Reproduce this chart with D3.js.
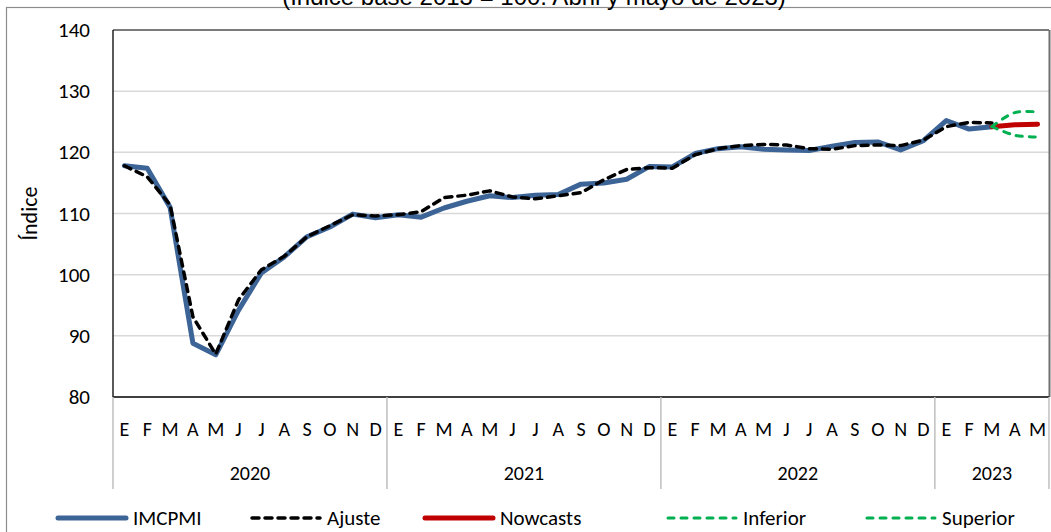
<!DOCTYPE html>
<html>
<head>
<meta charset="utf-8">
<script src="https://cdn.jsdelivr.net/npm/d3@7"></script>
<style>
  body { margin: 0; background: white; }
  svg text { font-family: Carlito, Lato, "Open Sans", sans-serif; fill: #000; }
</style>
</head>
<body>
<svg id="chart" width="1051" height="532"></svg>
<script>
// months / years
const months = ["E","F","M","A","M","J","J","A","S","O","N","D"];
const years = [
  { label: "2020", n: 12 },
  { label: "2021", n: 12 },
  { label: "2022", n: 12 },
  { label: "2023", n: 5 }
];
const yTicks = [80, 90, 100, 110, 120, 130, 140];

// series (null = no value)
const imcpmi = [
  117.8, 117.4, 111.0, 88.8, 86.9, 94.2, 100.3, 102.9, 106.2, 107.8, 109.9, 109.3,
  109.8, 109.4, 110.9, 112.0, 112.9, 112.6, 113.0, 113.1, 114.8, 115.0, 115.6, 117.7,
  117.6, 119.8, 120.6, 120.9, 120.5, 120.4, 120.3, 121.0, 121.6, 121.7, 120.4, 121.9,
  125.2, 123.8, 124.2, null, null
];
const ajuste = [
  117.8, 116.0, 111.4, 93.1, 87.0, 95.9, 100.8, 103.0, 106.2, 108.0, 109.8, 109.6,
  109.8, 110.3, 112.6, 113.0, 113.7, 112.7, 112.4, 112.9, 113.4, 115.5, 117.2, 117.5,
  117.4, 119.6, 120.6, 121.1, 121.3, 121.2, 120.6, 120.5, 121.1, 121.2, 121.1, 122.0,
  124.2, 124.9, 124.8, null, null
];
const nowcasts = [124.2, 124.5, 124.6];   // M, A, M 2023
const inferior = [124.2, 122.8, 122.5];
const superior = [124.2, 126.5, 126.6];
const forecastStart = 38;

const svg = d3.select("#chart");
const margin = { top: 30, right: 2, bottom: 135, left: 113 };
const W = 1051, H = 532;

const cats = [];
years.forEach(y => { for (let i = 0; i < y.n; i++) cats.push({ m: months[i], y: y.label }); });

const x = d3.scaleBand()
  .domain(d3.range(cats.length))
  .range([margin.left, W - margin.right])
  .paddingInner(0).paddingOuter(0);
const y = d3.scaleLinear().domain([80, 140]).range([H - margin.bottom, margin.top]);
const cx = i => x(i) + x.bandwidth() / 2;

// outer frame
svg.append("rect")
  .attr("x", 6.5).attr("y", 7.5)
  .attr("width", 1100).attr("height", 600)
  .attr("fill", "none").attr("stroke", "#8c8c8c").attr("stroke-width", 1.2);

// clipped title
svg.append("text")
  .attr("x", 534).attr("y", 5)
  .attr("text-anchor", "middle")
  .style("font-family", "'Liberation Sans', Arial, sans-serif")
  .style("font-size", "24px")
  .text("(Índice base 2013 = 100. Abril y mayo de 2023)");

// gridlines
svg.append("g").selectAll("line")
  .data(yTicks.filter(d => d > 80))
  .join("line")
  .attr("x1", margin.left).attr("x2", W - margin.right)
  .attr("y1", d => y(d)).attr("y2", d => y(d))
  .attr("stroke", "#d9d9d9").attr("stroke-width", 1.5);

// plot border
svg.append("line")
  .attr("x1", margin.left).attr("x2", W - margin.right)
  .attr("y1", margin.top).attr("y2", margin.top)
  .attr("stroke", "#595959").attr("stroke-width", 1.3);
svg.append("line")
  .attr("x1", W - margin.right + 0.5).attr("x2", W - margin.right + 0.5)
  .attr("y1", margin.top).attr("y2", y(80))
  .attr("stroke", "#6e6e6e").attr("stroke-width", 2);
svg.append("line")
  .attr("x1", margin.left).attr("x2", margin.left)
  .attr("y1", margin.top).attr("y2", y(80))
  .attr("stroke", "#000").attr("stroke-width", 1.3);
svg.append("line")
  .attr("x1", margin.left).attr("x2", W - margin.right)
  .attr("y1", y(80)).attr("y2", y(80))
  .attr("stroke", "#000").attr("stroke-width", 1.3);

// y axis labels
svg.append("g").selectAll("text")
  .data(yTicks)
  .join("text")
  .attr("x", 90).attr("y", d => y(d) + 7)
  .attr("text-anchor", "end")
  .style("font-size", "21px")
  .text(d => d);

svg.append("text")
  .attr("transform", `translate(37,${(margin.top + y(80)) / 2}) rotate(-90)`)
  .attr("text-anchor", "middle")
  .style("font-size", "22px")
  .text("Índice");

// category axis: months + year groups
svg.append("g").selectAll("text")
  .data(cats)
  .join("text")
  .attr("x", (d, i) => cx(i)).attr("y", 436)
  .attr("text-anchor", "middle")
  .style("font-size", "20px")
  .text(d => d.m);

let start = 0;
const seps = [0];
years.forEach(yr => {
  const x0 = x(start), x1 = x(start + yr.n - 1) + x.bandwidth();
  svg.append("text")
    .attr("x", (x0 + x1) / 2).attr("y", 480)
    .attr("text-anchor", "middle")
    .style("font-size", "20px")
    .text(yr.label);
  start += yr.n;
  seps.push(start);
});
svg.append("g").selectAll("line")
  .data(seps)
  .join("line")
  .attr("x1", d => d < cats.length ? x(d) : W - margin.right)
  .attr("x2", d => d < cats.length ? x(d) : W - margin.right)
  .attr("y1", y(80)).attr("y2", 489)
  .attr("stroke", "#bfbfbf").attr("stroke-width", 1.5);

// lines
const line = d3.line()
  .defined(d => d.v != null)
  .x(d => cx(d.i)).y(d => y(d.v));
const smooth = d3.line()
  .curve(d3.curveCatmullRom.alpha(0.5))
  .x(d => cx(d.i)).y(d => y(d.v));

const toPts = (arr, off) => arr.map((v, i) => ({ i: i + off, v }));

const series = [
  { name: "IMCPMI", data: toPts(imcpmi, 0), color: "#3c6496", width: 5, dash: null, gen: line },
  { name: "Ajuste", data: toPts(ajuste, 0), color: "#000", width: 3.5, dash: "7,6", gen: line },
  { name: "Nowcasts", data: toPts(nowcasts, forecastStart), color: "#c00000", width: 5, dash: null, gen: line },
  { name: "Inferior", data: toPts(inferior, forecastStart), color: "#00b050", width: 3, dash: "6,7", gen: smooth },
  { name: "Superior", data: toPts(superior, forecastStart), color: "#00b050", width: 3, dash: "6,7", gen: smooth }
];

series.forEach(s => {
  svg.append("path")
    .datum(s.data)
    .attr("d", s.gen)
    .attr("fill", "none")
    .attr("stroke", s.color)
    .attr("stroke-width", s.width)
    .attr("stroke-dasharray", s.dash)
    .attr("stroke-linecap", "round")
    .attr("stroke-linejoin", "round");
});

// legend
const legendX = [58, 252, 425, 668, 867];
const lg = svg.append("g").selectAll("g")
  .data(series)
  .join("g")
  .attr("transform", (d, i) => `translate(${legendX[i]},518)`);
lg.append("line")
  .attr("x1", 0).attr("x2", 68)
  .attr("stroke", d => d.color)
  .attr("stroke-width", d => d.width)
  .attr("stroke-dasharray", d => d.dash)
  .attr("stroke-linecap", "round");
lg.append("text")
  .attr("x", 75).attr("y", 7)
  .style("font-size", "21px")
  .text(d => d.name);
</script>
</body>
</html>
